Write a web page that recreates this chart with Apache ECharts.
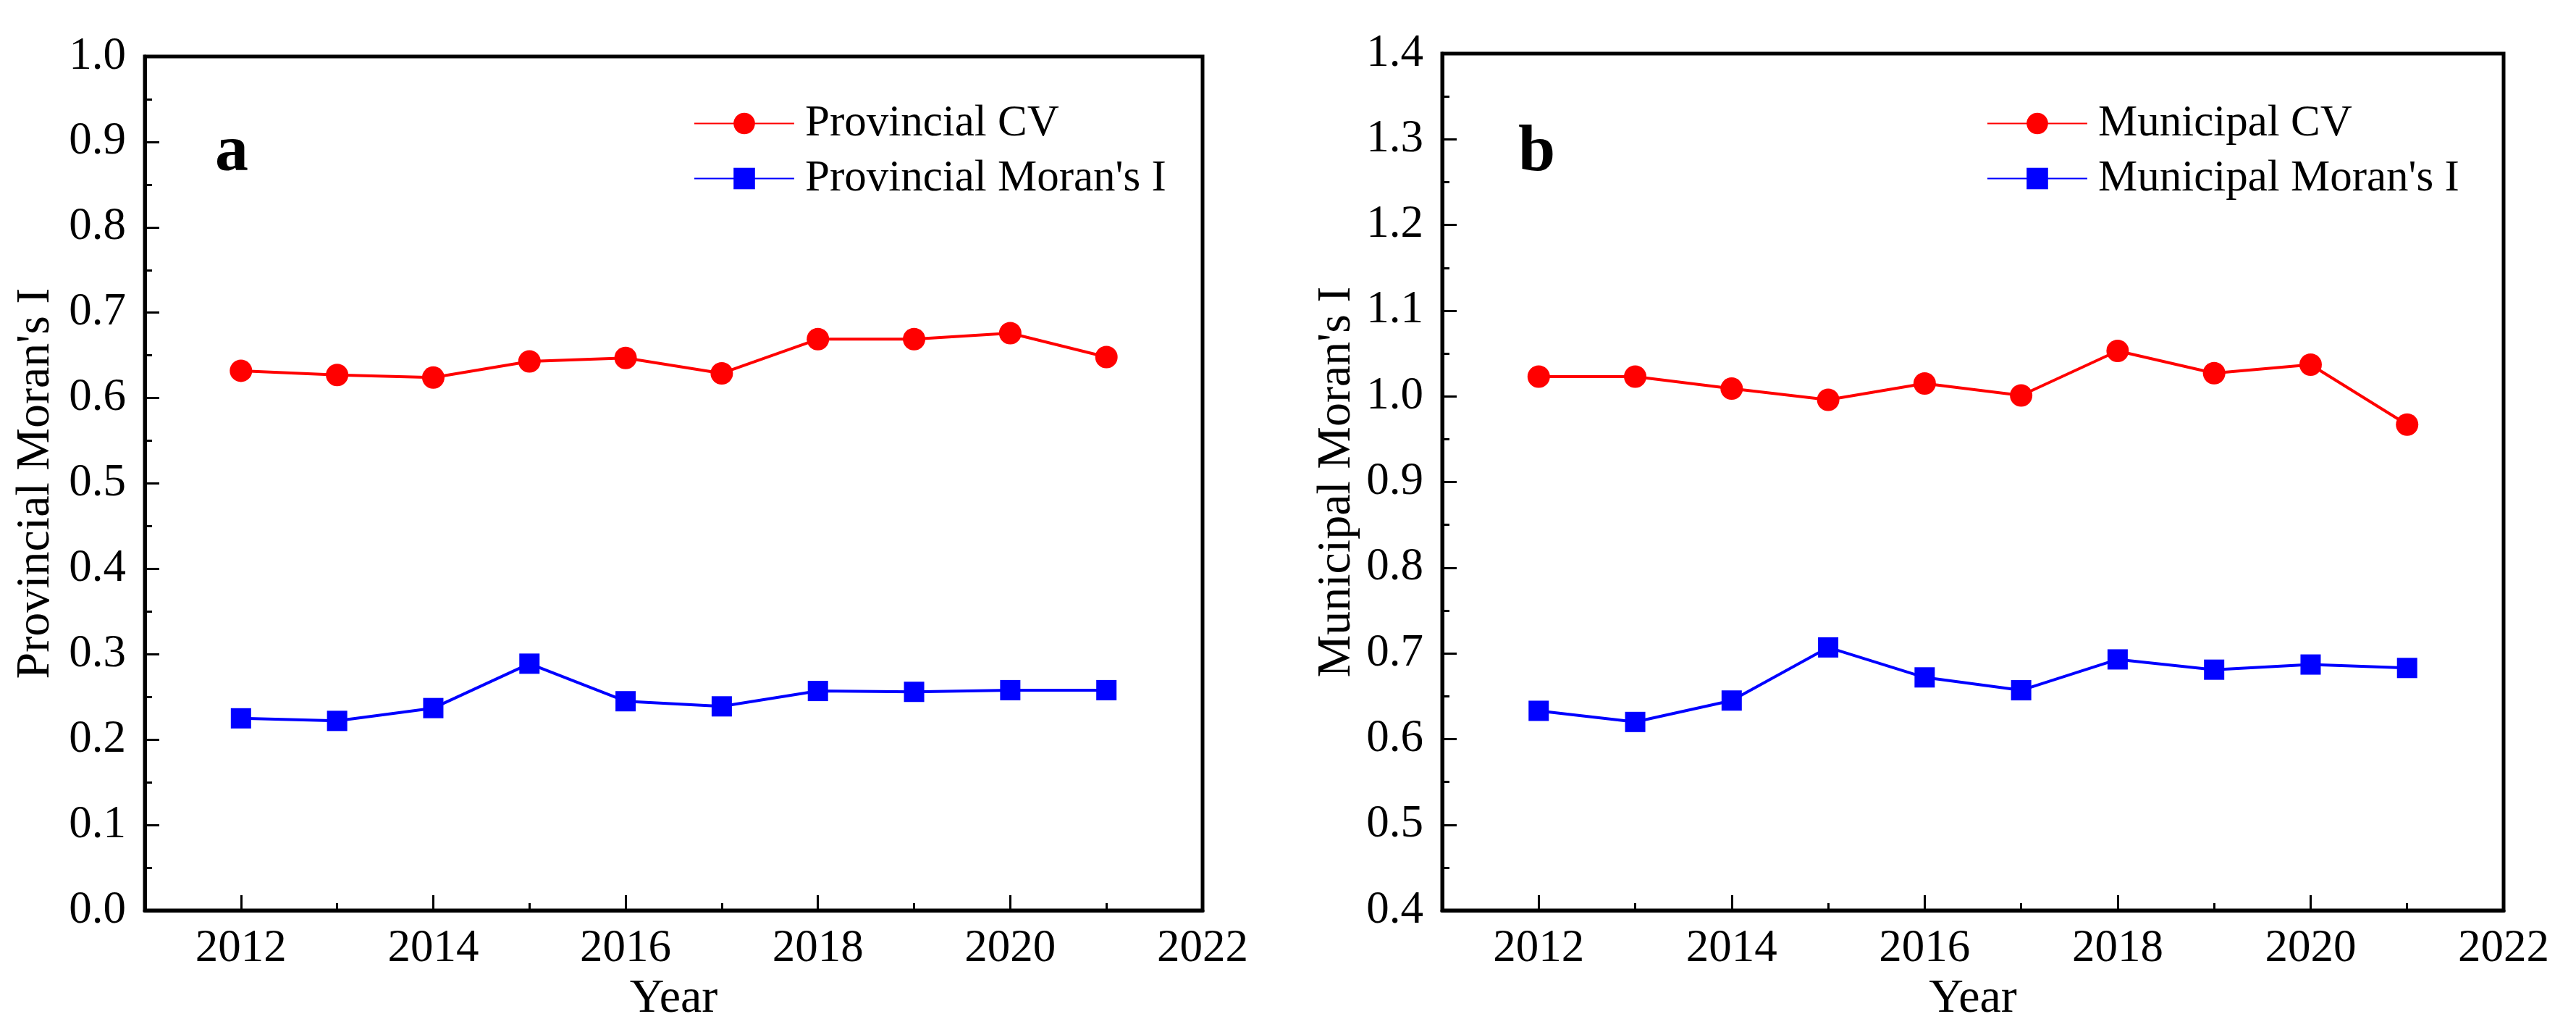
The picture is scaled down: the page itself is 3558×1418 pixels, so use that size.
<!DOCTYPE html>
<html>
<head>
<meta charset="utf-8">
<script src="https://cdn.jsdelivr.net/npm/echarts@6/dist/echarts.min.js"></script>
<style>
html,body{margin:0;padding:0;background:#fff;}
#chart{width:3558px;height:1418px;}
</style>
</head>
<body>
<div id="chart"></div>
<script>
// ---- data ----
const years = [2012, 2013, 2014, 2015, 2016, 2017, 2018, 2019, 2020, 2021];
const provincialCV = [0.632, 0.627, 0.624, 0.643, 0.647, 0.629, 0.669, 0.669, 0.676, 0.648];
const provincialMoran = [0.225, 0.222, 0.237, 0.289, 0.245, 0.239, 0.257, 0.256, 0.258, 0.258];
const municipalCV = [1.023, 1.023, 1.009, 0.996, 1.015, 1.001, 1.053, 1.027, 1.037, 0.967];
const municipalMoran = [0.633, 0.620, 0.645, 0.707, 0.672, 0.657, 0.693, 0.681, 0.687, 0.683];
const xMajorTicks = [2012, 2014, 2016, 2018, 2020, 2022];
const xMinorTicks = [2013, 2015, 2017, 2019, 2021];
const panelLetters = ['a', 'b'];
const yTitles = ["Provincial Moran's I", "Municipal Moran's I"];
const xTitle = 'Year';
const seriesNames = [["Provincial CV", "Provincial Moran's I"], ["Municipal CV", "Municipal Moran's I"]];

const FONT = "Liberation Serif";
const RED = '#ff0000', BLUE = '#0000ff';

const grids = [
  {left: 200, top: 78, width: 1461, height: 1181},
  {left: 1992, top: 74, width: 1466, height: 1185}
];
const yRanges = [{min: 0, max: 1.0}, {min: 0.4, max: 1.4}];
const letterOffsets = [97, 105];
const legendOffsets = [758, 752];
const yNameGaps = [117, 112];

function pairs(vals){ return years.map((y, i) => [y, vals[i]]); }

const tickText = {fontFamily: FONT, fontSize: 63, fontWeight: 'normal', color: '#000',
  textBorderWidth: 0, textShadowBlur: 0};

const option = {
  backgroundColor: '#fff',
  animation: false,
  textStyle: {fontFamily: FONT, color: '#000'},
  title: grids.map((g, i) => ({
    text: panelLetters[i],
    left: g.left + letterOffsets[i],
    top: 165,
    padding: 0,
    textStyle: {fontFamily: FONT, fontWeight: 'bold', fontSize: 92, color: '#000'}
  })),
  legend: grids.map((g, i) => ({
    orient: 'vertical',
    left: g.left + legendOffsets[i],
    top: 140,
    padding: 0,
    itemGap: 15,
    itemWidth: 138,
    itemHeight: 37,
    data: seriesNames[i],
    textStyle: {fontFamily: FONT, fontSize: 61, color: '#000', padding: [0, 0, 0, 10]}
  })),
  grid: grids.map(g => Object.assign({show: true, borderColor: '#000', borderWidth: 5, backgroundColor: 'transparent'}, g)),
  xAxis: [],
  yAxis: [],
  series: []
};

grids.forEach((g, i) => {
  option.xAxis.push(Object.assign({
    type: 'value', gridIndex: i, min: 2011, max: 2022, position: 'bottom',
    name: xTitle, nameLocation: 'middle', nameGap: 81,
    nameTextStyle: {fontFamily: FONT, fontSize: 66, color: '#000'},
    axisLine: {show: true, lineStyle: {color: '#000', width: 5}},
    axisTick: {show: true, inside: true, length: 21, lineStyle: {color: '#000', width: 3}, customValues: xMajorTicks},
    axisLabel: Object.assign({show: true, margin: 22, customValues: xMajorTicks, formatter: v => String(v)}, tickText),
    splitLine: {show: false}
  }));
  option.xAxis.push({
    type: 'value', gridIndex: i, min: 2011, max: 2022, position: 'bottom',
    axisLine: {show: false},
    axisTick: {show: true, inside: true, length: 10, lineStyle: {color: '#000', width: 3}, customValues: xMinorTicks},
    axisLabel: {show: false, customValues: xMinorTicks},
    splitLine: {show: false}
  });
  option.yAxis.push({
    type: 'value', gridIndex: i, min: yRanges[i].min, max: yRanges[i].max, interval: 0.1,
    name: yTitles[i], nameLocation: 'middle', nameGap: yNameGaps[i], nameRotate: 90,
    nameTextStyle: {fontFamily: FONT, fontSize: 66, color: '#000'},
    axisLine: {show: true, lineStyle: {color: '#000', width: 5}},
    axisTick: {show: true, inside: true, length: 20, lineStyle: {color: '#000', width: 3}},
    minorTick: {show: true, splitNumber: 2, length: 10, lineStyle: {color: '#000', width: 3}},
    axisLabel: Object.assign({show: true, margin: 26, formatter: v => v.toFixed(1)}, tickText),
    splitLine: {show: false}
  });
});

const dataSets = [[provincialCV, provincialMoran], [municipalCV, municipalMoran]];
dataSets.forEach((sets, i) => {
  option.series.push({
    name: seriesNames[i][0], type: 'line', xAxisIndex: i * 2, yAxisIndex: i,
    data: pairs(sets[0]), symbol: 'circle', symbolSize: 31,
    lineStyle: {color: RED, width: 4}, itemStyle: {color: RED}, z: 3
  });
  option.series.push({
    name: seriesNames[i][1], type: 'line', xAxisIndex: i * 2, yAxisIndex: i,
    data: pairs(sets[1]), symbol: 'rect', symbolSize: 28,
    lineStyle: {color: BLUE, width: 4}, itemStyle: {color: BLUE}, z: 3
  });
});

const chart = echarts.init(document.getElementById('chart'), null, {renderer: 'canvas', width: 3558, height: 1418});
chart.setOption(option);
</script>
</body>
</html>
